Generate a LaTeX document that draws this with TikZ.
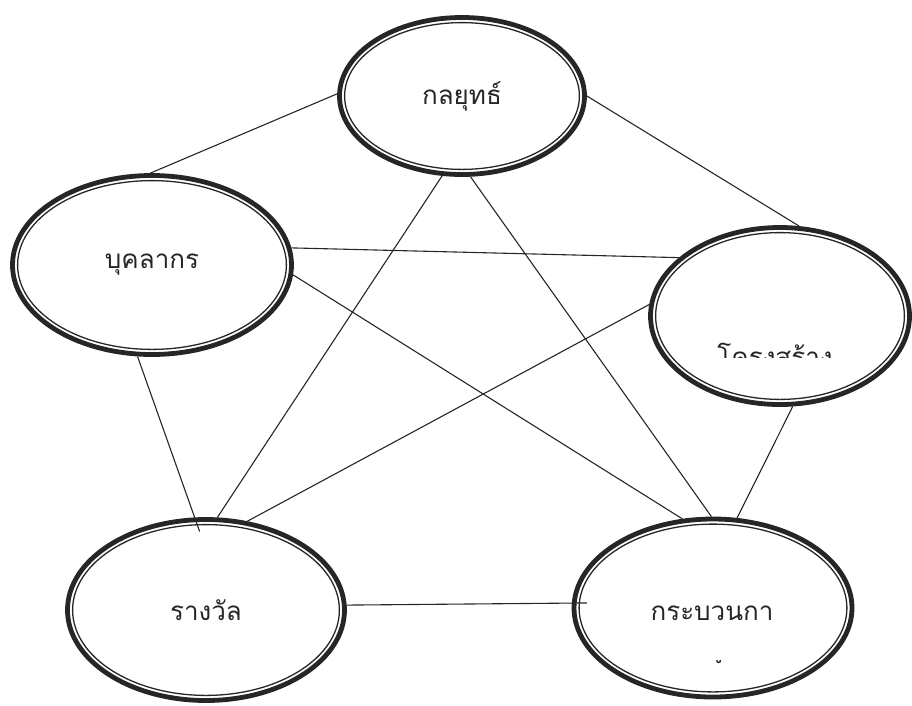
\documentclass[tikz,border=0pt]{standalone}
\usepackage{fontspec}
\newfontfamily\thaifont[Script=Thai]{Loma}
\usetikzlibrary{shapes.geometric,calc}

\tikzset{
  bubble/.style={ellipse, draw=black!85, line width=4.8pt, inner sep=0pt,
    font=\thaifont\fontsize{26}{30}\selectfont, text=black!85},
  thaitext/.style={inner sep=0pt, anchor=base,
    font=\thaifont\fontsize{26}{30}\selectfont, text=black!85},
  link/.style={draw=black!85, line width=1.1pt},
}

\begin{document}
\begin{tikzpicture}[x=1pt,y=-1pt]
    \useasboundingbox (0,0) rectangle (912,705);
    \node[bubble, minimum width=245pt, minimum height=157pt] (strat) at (462,96) {กลยุทธ์};
    \node[bubble, minimum width=279pt, minimum height=179pt] (staff) at (152,265) {บุคลากร};
    \node[bubble, minimum width=259pt, minimum height=177pt] (struct) at (780,316) {};
    \node[bubble, minimum width=277pt, minimum height=181pt] (reward) at (206,610) {รางวัล};
    \node[bubble, minimum width=278pt, minimum height=178pt] (proc) at (713,608) {};
    % inner rings
    \foreach \e in {strat,staff,struct,reward,proc}
        \draw[line width=1.3pt, black!85] let \p1=(\e.center), \p2=(\e.east), \p3=(\e.north) in
            (\p1) ellipse ({\x2-\x1-7.5pt} and {\y3-\y1-7.5pt});
    % texts cut off in the original
    \begin{scope}
        \clip (640,200) rectangle (912,357);
        \node[thaitext] (structtxt) at (775,366) {โครงสร้าง};
    \end{scope}
    \node[thaitext] (proctxt) at (712,620) {กระบวนกา};
    \begin{scope}
        \clip (712,660.5) rectangle (740,680);
        \node[thaitext] (proctail) at (717,663) {ร};
    \end{scope}
    % links
    \draw[link] (strat.179) -- (staff.91);
    \draw[link] (strat.0) -- (struct.78);
    \draw[link] (staff.7) -- (struct.150);
    \draw[link] (staff.-4) -- (proc.109);
    \draw[link, shorten >=-15pt] (staff.261) -- (reward.97);
    \draw[link] (strat.256) -- (reward.83);
    \draw[link] (strat.276) -- (proc.91);
    \draw[link] (struct.175) -- (reward.65);
    \draw[link] (struct.278) -- (proc.75);
    \draw[link, shorten >=-15pt] (reward.2) -- (proc.178);
\end{tikzpicture}
\end{document}
